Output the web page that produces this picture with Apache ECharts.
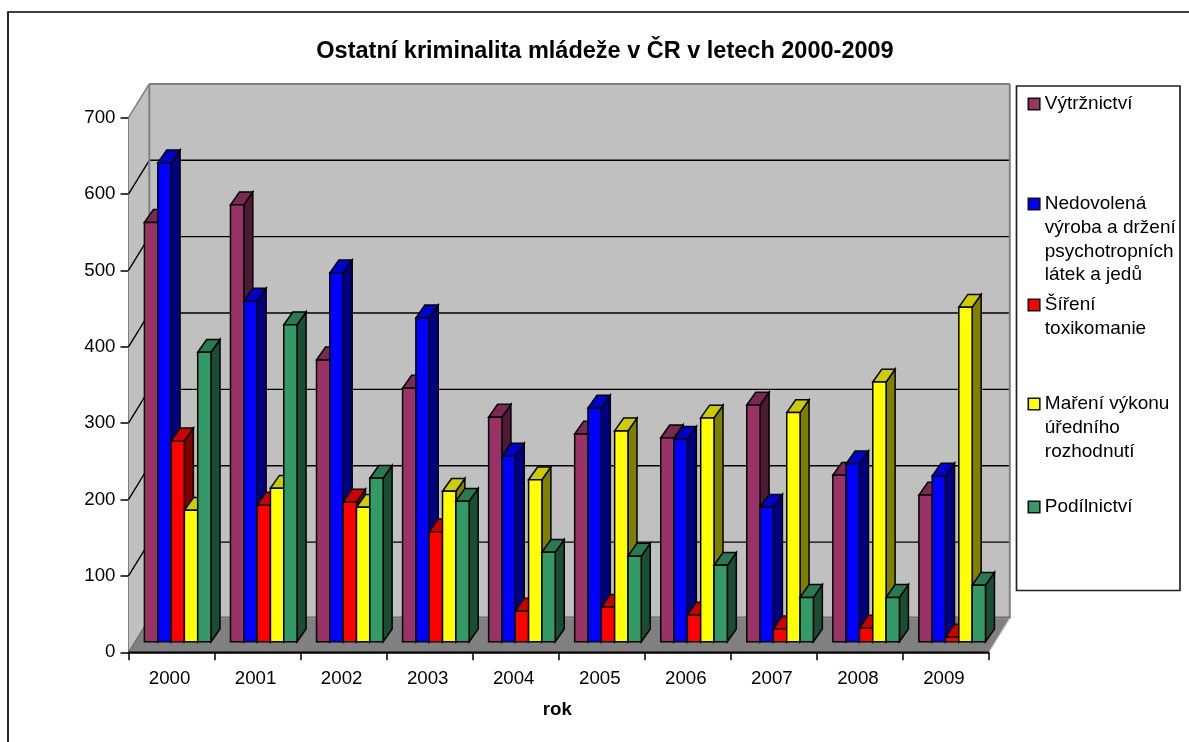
<!DOCTYPE html>
<html>
<head>
<meta charset="utf-8">
<style>html,body{margin:0;padding:0;background:#fff}#c{width:1189px;height:742px}</style>
<script src="https://cdn.jsdelivr.net/npm/echarts@6/dist/echarts.min.js"></script>
</head>
<body>
<div id="c"></div>
<script>
const years = ['2000','2001','2002','2003','2004','2005','2006','2007','2008','2009'];
const yTicks = [0,100,200,300,400,500,600,700];
const vytrznictvi = [549,572,369,332,294,272,267,310,218,192];
const nedovolena  = [627,446,483,424,243,306,265,176,233,217];
const sireni      = [263,179,183,144,40,45,35,17,18,6];
const mareni      = [172,201,176,197,212,276,293,300,340,438];
const podilnictvi = [379,415,214,184,117,112,100,58,58,74];

const seriesDefs = [
  {name:'Výtržnictví', values:vytrznictvi, front:'#993366', top:'#7A2952', side:'#4D1933', lines:['Výtržnictví'], first:104},
  {name:'Nedovolená výroba a držení psychotropních látek a jedů', values:nedovolena, front:'#0000FF', top:'#0000CC', side:'#000080',
   lines:['Nedovolená','výroba a držení','psychotropních','látek a jedů'], first:204},
  {name:'Šíření toxikomanie', values:sireni, front:'#FF0000', top:'#CC0000', side:'#800000', lines:['Šíření','toxikomanie'], first:305},
  {name:'Maření výkonu úředního rozhodnutí', values:mareni, front:'#FFFF00', top:'#CCCC00', side:'#808000',
   lines:['Maření výkonu','úředního','rozhodnutí'], first:404},
  {name:'Podílnictví', values:podilnictvi, front:'#339966', top:'#297A52', side:'#1A4D33', lines:['Podílnictví'], first:507}
];

const FONT = '"Liberation Sans", Arial, sans-serif';
const WALL_DX = 20.8, WALL_DY = -33.8;
const BAR_OFF_X = 6.2, BAR_OFF_Y = -10.6;
const BAR_DX = 9, BAR_DY = -12.8;
const BAR_W_RATIO = 0.1548;
const LINE_H = 23.7;

function poly(points, fill, stroke, lw) {
  return {type:'polygon', shape:{points}, style:{fill, stroke:stroke||null, lineWidth:lw||0, lineJoin:'miter'}};
}
function line(a, b, stroke, lw) {
  return {type:'line', shape:{x1:a[0],y1:a[1],x2:b[0],y2:b[1]}, style:{stroke, lineWidth:lw}};
}

function renderWalls(params, api) {
  const band = api.size([1,0])[0];
  const p0 = api.coord([0,0]), pN = api.coord([years.length-1,0]);
  const xL = p0[0]-band/2, xR = pN[0]+band/2, yB = p0[1];
  const yT = api.coord([0,yTicks[yTicks.length-1]])[1];
  const gr = '#808080', wall = '#C0C0C0';
  const kids = [];
  kids.push(poly([[xL+WALL_DX,yT+WALL_DY],[xR+WALL_DX,yT+WALL_DY],[xR+WALL_DX,yB+WALL_DY],[xL+WALL_DX,yB+WALL_DY]], wall));
  kids.push(poly([[xL,yT],[xL+WALL_DX,yT+WALL_DY],[xL+WALL_DX,yB+WALL_DY],[xL,yB]], wall));
  kids.push(poly([[xL,yB],[xR,yB],[xR+WALL_DX,yB+WALL_DY],[xL+WALL_DX,yB+WALL_DY]], gr));
  yTicks.forEach(v => {
    const y = api.coord([0,v])[1];
    if (v > 0 && v < yTicks[yTicks.length-1]) {
      kids.push(line([xL,y],[xL+WALL_DX,y+WALL_DY],'#000',1.4));
      kids.push(line([xL+WALL_DX,y+WALL_DY],[xR+WALL_DX,y+WALL_DY],'#000',1.4));
    }
  });
  kids.push(line([xL,yT],[xL+WALL_DX,yT+WALL_DY],gr,1.6));
  kids.push(line([xL+WALL_DX,yT+WALL_DY],[xR+WALL_DX,yT+WALL_DY],gr,2));
  kids.push(line([xL+WALL_DX,yT+WALL_DY],[xL+WALL_DX,yB+WALL_DY],gr,2));
  kids.push(line([xR+WALL_DX,yT+WALL_DY],[xR+WALL_DX,yB+WALL_DY],gr,2));
  kids.push(line([xL+WALL_DX,yB+WALL_DY-1],[xR+WALL_DX,yB+WALL_DY-1],'#6e6e6e',2));
  kids.push(line([xL,yB],[xL+WALL_DX,yB+WALL_DY],'#6a6a6a',1.2));
  kids.push(line([xR,yB],[xR+WALL_DX,yB+WALL_DY],'#d0d0d0',1.2));
  kids.push(line([xL,yB],[xR,yB],'#000',1.5));
  return {type:'group', children:kids};
}

function barRenderer(idx) {
  const d = seriesDefs[idx];
  return function(params, api) {
    const cat = api.value(0), val = api.value(1);
    const band = api.size([1,0])[0];
    const w = band*BAR_W_RATIO;
    const c = api.coord([cat,val]), b = api.coord([cat,0]);
    const x0 = c[0]+BAR_OFF_X - 2.5*w + idx*w, x1 = x0+w;
    const yTop = c[1]+BAR_OFF_Y, yBot = b[1]+BAR_OFF_Y;
    const k = '#000', lw = 1.5;
    return {type:'group', children:[
      poly([[x1,yBot],[x1+BAR_DX,yBot+BAR_DY],[x1+BAR_DX,yTop+BAR_DY],[x1,yTop]], d.side, k, lw),
      poly([[x0,yTop],[x0+BAR_DX,yTop+BAR_DY],[x1+BAR_DX,yTop+BAR_DY],[x1,yTop]], d.top, k, lw),
      poly([[x0,yTop],[x1,yTop],[x1,yBot],[x0,yBot]], d.front, k, lw)
    ]};
  };
}

const series = [{
  name:'walls', type:'custom', silent:true, z:1, clip:false,
  renderItem:renderWalls, data:[[0,0]], encode:{x:0,y:1}
}].concat(seriesDefs.map((d,i)=>({
  name:d.name, type:'custom', z:2+i, clip:false,
  renderItem:barRenderer(i),
  itemStyle:{color:d.front},
  encode:{x:0,y:1},
  data:d.values.map((v,j)=>[j,v])
})));

const legends = seriesDefs.map(d=>{
  const blanks = d.lines.length-1;
  const txt = new Array(blanks).fill('').concat(d.lines).join('\n');
  return {
    show:true, data:[{name:d.name, icon:'rect', itemStyle:{color:d.front, borderColor:'#111', borderWidth:1.6}}],
    left:1027.5, top:d.first-LINE_H/2-blanks*LINE_H, orient:'vertical', padding:0,
    itemWidth:11.5, itemHeight:11.5, itemGap:0, selectedMode:false,
    formatter:()=>txt,
    textStyle:{fontFamily:FONT, fontSize:19, color:'#000', lineHeight:LINE_H}
  };
});

const option = {
  animation:false,
  backgroundColor:'#fff',
  title:{text:'Ostatní kriminalita mládeže v ČR v letech 2000-2009', left:600, top:35, textAlign:'center',
    textStyle:{fontFamily:FONT, fontSize:23.5, fontWeight:'bold', color:'#000'}},
  grid:{left:128.5, right:1189-989, top:117.7, bottom:742-652.3, containLabel:false},
  xAxis:{type:'category', data:years, boundaryGap:true,
    axisLine:{show:true,lineStyle:{color:'#000',width:1.5}},
    axisTick:{show:true,length:8,alignWithLabel:false,lineStyle:{color:'#000',width:1.5}},
    axisLabel:{fontFamily:FONT,fontSize:18.7,color:'#000',margin:17.5,padding:[0,4,0,0]},
    name:'rok', nameLocation:'middle', nameGap:48,
    nameTextStyle:{fontFamily:FONT,fontSize:18.7,fontWeight:'bold',color:'#000',padding:[0,3,0,0]}},
  yAxis:{type:'value', min:0, max:700, interval:100,
    axisLine:{show:true,lineStyle:{color:'#000',width:1.5}},
    axisTick:{show:true,length:8,lineStyle:{color:'#000',width:1.5}},
    axisLabel:{fontFamily:FONT,fontSize:18.7,color:'#000',margin:13},
    splitLine:{show:false}},
  legend:legends,
  graphic:[
    {type:'rect', silent:true, z:-1, shape:{x:8,y:12,width:1300,height:900}, style:{fill:'#fff',stroke:'#000',lineWidth:1.7}},
    {type:'rect', silent:true, z:0, shape:{x:1016.5,y:86,width:163.5,height:504.5}, style:{fill:'#fff',stroke:'#222',lineWidth:1.7}}
  ],
  series
};
const chart = echarts.init(document.getElementById('c'),null,{renderer:'canvas'});
chart.setOption(option);
</script>
</body>
</html>
